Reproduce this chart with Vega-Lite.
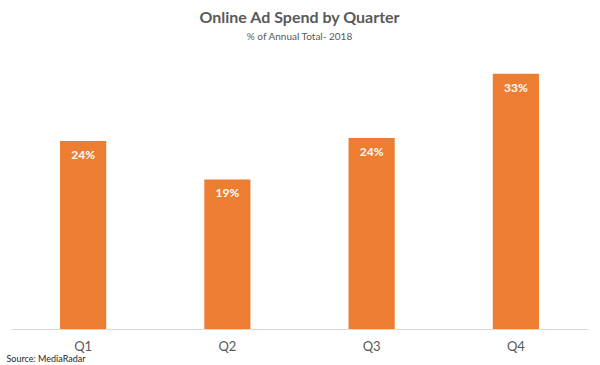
{
  "$schema": "https://vega.github.io/schema/vega-lite/v6.json",
  "autosize": "none",
  "width": 577,
  "height": 274,
  "padding": {"left": 11, "top": 55, "right": 12, "bottom": 36},
  "background": "white",
  "title": {
    "text": "Online Ad Spend by Quarter",
    "subtitle": "% of Annual Total- 2018",
    "anchor": "middle",
    "font": "Lato",
    "fontSize": 16,
    "fontWeight": "bold",
    "color": "#595959",
    "subtitleFont": "Lato",
    "subtitleFontSize": 10,
    "subtitleColor": "#595959",
    "subtitlePadding": 6,
    "offset": 13
  },
  "data": {
    "values": [
      {"quarter": "Q1", "share": 0.240},
      {"quarter": "Q2", "share": 0.191},
      {"quarter": "Q3", "share": 0.244},
      {"quarter": "Q4", "share": 0.326}
    ]
  },
  "encoding": {
    "x": {
      "field": "quarter",
      "type": "nominal",
      "sort": null,
      "scale": {"paddingInner": 0.68, "paddingOuter": 0.34},
      "axis": {
        "title": "Source: MediaRadar",
        "titleAnchor": "start",
        "titleAlign": "left",
        "titleBaseline": "alphabetic",
        "titleX": -5,
        "titleY": 32,
        "titleFont": "Lato",
        "titleFontSize": 9,
        "titleFontWeight": "normal",
        "titleColor": "#262626",
        "labelAngle": 0,
        "labelFont": "Lato",
        "labelFontSize": 13,
        "labelColor": "#595959",
        "labelPadding": 11,
        "ticks": false,
        "domainColor": "#D9D9D9",
        "domainWidth": 1
      }
    },
    "y": {
      "field": "share",
      "type": "quantitative",
      "scale": {"domain": [0, 0.35]},
      "axis": null
    }
  },
  "layer": [
    {"mark": {"type": "bar", "color": "#ED7D31"}},
    {
      "mark": {
        "type": "text",
        "color": "white",
        "font": "Lato",
        "fontSize": 12,
        "fontWeight": "bold",
        "baseline": "middle",
        "dy": 14
      },
      "encoding": {
        "text": {"field": "share", "type": "quantitative", "format": ".0%"}
      }
    }
  ],
  "config": {
    "view": {"stroke": null},
    "axis": {"grid": false}
  }
}
